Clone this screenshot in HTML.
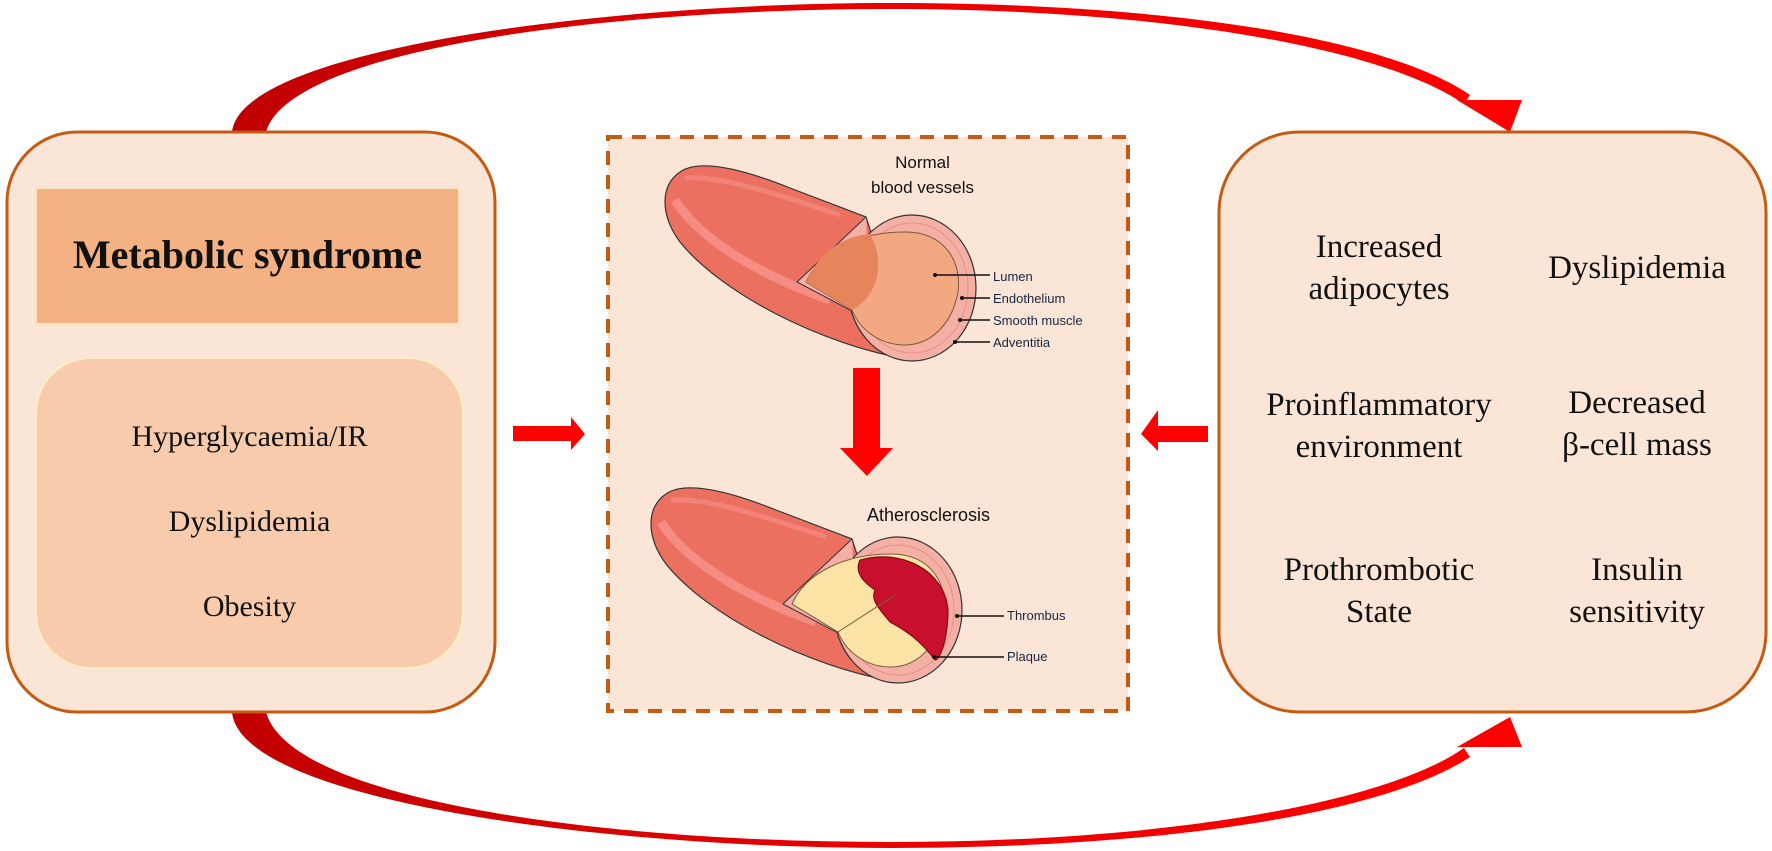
<!DOCTYPE html>
<html><head><meta charset="utf-8"><style>
body{margin:0;width:1772px;height:851px;background:#fff;overflow:hidden;position:relative;font-family:"Liberation Serif",serif;}
.t{position:absolute;text-align:center;font-size:33px;color:#111;line-height:42px;white-space:nowrap;}
.s{font-family:"Liberation Sans",sans-serif;font-size:13px;color:#1a2540;position:absolute;white-space:nowrap;}
</style></head><body>
<svg width="1772" height="851" style="position:absolute;left:0;top:0">
<defs>
<linearGradient id="g1" x1="0" x2="1"><stop offset="0" stop-color="#c00000"/><stop offset="0.5" stop-color="#e80000"/><stop offset="1" stop-color="#ff0000"/></linearGradient>
<g id="vessel">
<path d="M680,172 C700,158 745,170 790,188 L866,217 L912,360 C820,345 720,292 680,242 C660,215 660,185 680,172Z" fill="#ec7060" stroke="#333" stroke-width="1.2"/>
<path d="M675,200 C700,240 760,275 830,300" stroke="#f58d85" stroke-width="9" fill="none"/>
<path d="M685,178 C720,175 780,195 840,215" stroke="#f28378" stroke-width="5" fill="none"/>
<ellipse cx="912" cy="288" rx="64" ry="73" fill="#f5b0a5" stroke="#333" stroke-width="1.2"/>
<ellipse cx="912" cy="288" rx="56" ry="65" fill="none" stroke="#e88e85" stroke-width="1"/>
<path d="M866,217 L797,282 L850,310 L870,300" fill="#f5b0a5" stroke="#333" stroke-width="1"/>
</g>
</defs>
<!-- arcs -->
<path d="M232,132 C240,50 600,3 890,3 C1180,3 1390,40 1470,95 L1464,104 C1390,52 1180,9 890,9 C600,9 290,50 266,132 Z" fill="url(#g1)"/>
<polygon points="1457,100 1522,100 1510,132" fill="#f00"/>
<path d="M232,712 C240,800 600,848 890,848 C1180,848 1390,810 1470,757 L1464,748 C1390,800 1180,842 890,842 C600,842 290,800 266,712 Z" fill="url(#g1)"/>
<polygon points="1457,747 1522,747 1510,717" fill="#f00"/>
<!-- left box -->
<rect x="7" y="132" width="488" height="580" rx="70" fill="#fbe5d6" stroke="#c55a11" stroke-width="3"/>
<rect x="36" y="188" width="423" height="136" fill="#f4b183" stroke="#fce4c0" stroke-width="2"/>
<rect x="36" y="358" width="427" height="310" rx="55" fill="#f8cbad" stroke="#fdefc4" stroke-width="2"/>
<!-- right box -->
<rect x="1219" y="132" width="547" height="580" rx="80" fill="#fbe5d6" stroke="#c55a11" stroke-width="3"/>
<!-- center dashed -->
<rect x="608" y="137" width="520" height="574" fill="#fbe5d6" stroke="#c55a11" stroke-width="4" stroke-dasharray="14,10"/>
<!-- side arrows -->
<polygon points="513,426 571,426 571,417 585,434 571,450 571,441 513,441" fill="#f00"/>
<polygon points="1208,426 1158,426 1158,410 1141,434 1158,451 1158,442 1208,442" fill="#f00"/>
<!-- down arrow -->
<polygon points="853,368 880,368 880,448 893,448 867,476 840,448 853,448" fill="#f00"/>
<!-- normal vessel -->
<use href="#vessel"/>
<path d="M806,282 C820,250 860,232 905,232 C945,232 962,262 958,292 C952,325 930,345 905,345 C880,345 860,330 852,310 Z" fill="#f3a882" stroke="#7a5a3a" stroke-width="1"/>
<path d="M806,282 C820,250 845,236 870,234 C885,260 880,295 852,310 Z" fill="#e6855c"/>
<!-- ather vessel -->
<use href="#vessel" transform="translate(-14,322)"/>
<path d="M792,604 C806,572 846,554 891,554 C931,554 948,584 944,614 C938,647 916,667 891,667 C866,667 846,652 838,632 Z" fill="#fae3a4" stroke="#7a5a3a" stroke-width="1"/>
<path d="M860,560 C900,548 945,570 948,610 C948,640 940,660 935,660 C920,640 905,630 890,622 C880,610 870,600 875,590 C860,580 855,570 860,560Z" fill="#c8102e" stroke="#7a0010"/>
<line x1="838" y1="632" x2="895" y2="595" stroke="#7a5a3a" stroke-width="1"/>
<!-- label lines -->
<g stroke="#111" stroke-width="1.5">
<line x1="935" y1="275" x2="990" y2="275"/><line x1="962" y1="298" x2="990" y2="298"/>
<line x1="960" y1="320" x2="990" y2="320"/><line x1="955" y1="342" x2="990" y2="342"/>
<line x1="957" y1="616" x2="1004" y2="616"/><line x1="934" y1="657" x2="1004" y2="657"/>
</g>
<g fill="#111"><circle cx="935" cy="275" r="2"/><circle cx="962" cy="298" r="2"/><circle cx="960" cy="320" r="2"/><circle cx="955" cy="342" r="2"/><circle cx="957" cy="616" r="2"/><circle cx="934" cy="657" r="2"/></g>
</svg>
<div class="t" style="left:36px;top:230px;width:423px;font-size:40px;font-weight:bold;line-height:50px;">Metabolic syndrome</div>
<div class="t" style="left:36px;top:416px;width:427px;font-size:30px;">Hyperglycaemia/IR</div>
<div class="t" style="left:36px;top:501px;width:427px;font-size:30px;">Dyslipidemia</div>
<div class="t" style="left:36px;top:586px;width:427px;font-size:30px;">Obesity</div>
<div class="t" style="left:1259px;top:226px;width:240px;">Increased<br>adipocytes</div>
<div class="t" style="left:1517px;top:247px;width:240px;">Dyslipidemia</div>
<div class="t" style="left:1259px;top:384px;width:240px;">Proinflammatory<br>environment</div>
<div class="t" style="left:1517px;top:382px;width:240px;">Decreased<br>β-cell mass</div>
<div class="t" style="left:1259px;top:549px;width:240px;">Prothrombotic<br>State</div>
<div class="t" style="left:1517px;top:549px;width:240px;">Insulin<br>sensitivity</div>
<div class="s" style="left:860px;top:150px;width:125px;text-align:center;font-size:17px;line-height:25px;color:#111;">Normal<br>blood vessels</div>
<div class="s" style="left:993px;top:269px;">Lumen</div>
<div class="s" style="left:993px;top:291px;">Endothelium</div>
<div class="s" style="left:993px;top:313px;">Smooth muscle</div>
<div class="s" style="left:993px;top:335px;">Adventitia</div>
<div class="s" style="left:867px;top:505px;font-size:18px;color:#111;">Atherosclerosis</div>
<div class="s" style="left:1007px;top:608px;">Thrombus</div>
<div class="s" style="left:1007px;top:649px;">Plaque</div>
</body></html>
